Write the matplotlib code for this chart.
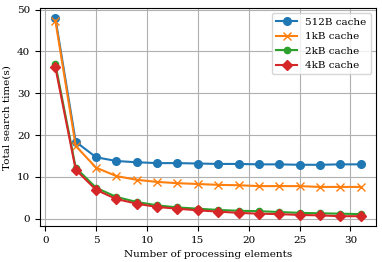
import matplotlib.pyplot as plt

plt.rcParams['font.family'] = 'DejaVu Serif'
plt.rcParams['font.size'] = 7.5

# number of processing elements
pes = [1, 3, 5, 7, 9, 11, 13, 15, 17, 19, 21, 23, 25, 27, 29, 31]

# total search time for each cache size
t_512b = [48.0, 18.4, 14.7, 13.8, 13.5, 13.3, 13.3, 13.2, 13.1, 13.1, 13.0, 13.0, 12.9, 12.9, 13.0, 13.0]
t_1kb = [47.4, 17.4, 12.2, 10.2, 9.3, 8.8, 8.5, 8.3, 8.1, 8.0, 7.8, 7.8, 7.8, 7.6, 7.6, 7.6]
t_2kb = [37.0, 12.2, 7.4, 5.2, 4.0, 3.2, 2.7, 2.4, 2.1, 1.9, 1.8, 1.6, 1.4, 1.3, 1.2, 1.1]
t_4kb = [36.2, 11.7, 6.9, 4.7, 3.6, 2.8, 2.4, 2.0, 1.7, 1.4, 1.2, 1.1, 0.9, 0.8, 0.6, 0.6]

fig, ax = plt.subplots(figsize=(3.82, 2.62), dpi=100)

ax.plot(pes, t_512b, marker='o', markersize=5.5, label='512B cache')
ax.plot(pes, t_1kb, marker='x', markersize=5.5, label='1kB cache')
ax.plot(pes, t_2kb, marker='.', markersize=9, label='2kB cache')
ax.plot(pes, t_4kb, marker='D', markersize=5, label='4kB cache')

ax.set_xlabel('Number of processing elements')
ax.set_ylabel('Total search time(s)')
ax.grid(True)
ax.legend(loc='upper right')

plt.subplots_adjust(left=0.105, right=0.984, top=0.969, bottom=0.137)
plt.savefig('out.png')
